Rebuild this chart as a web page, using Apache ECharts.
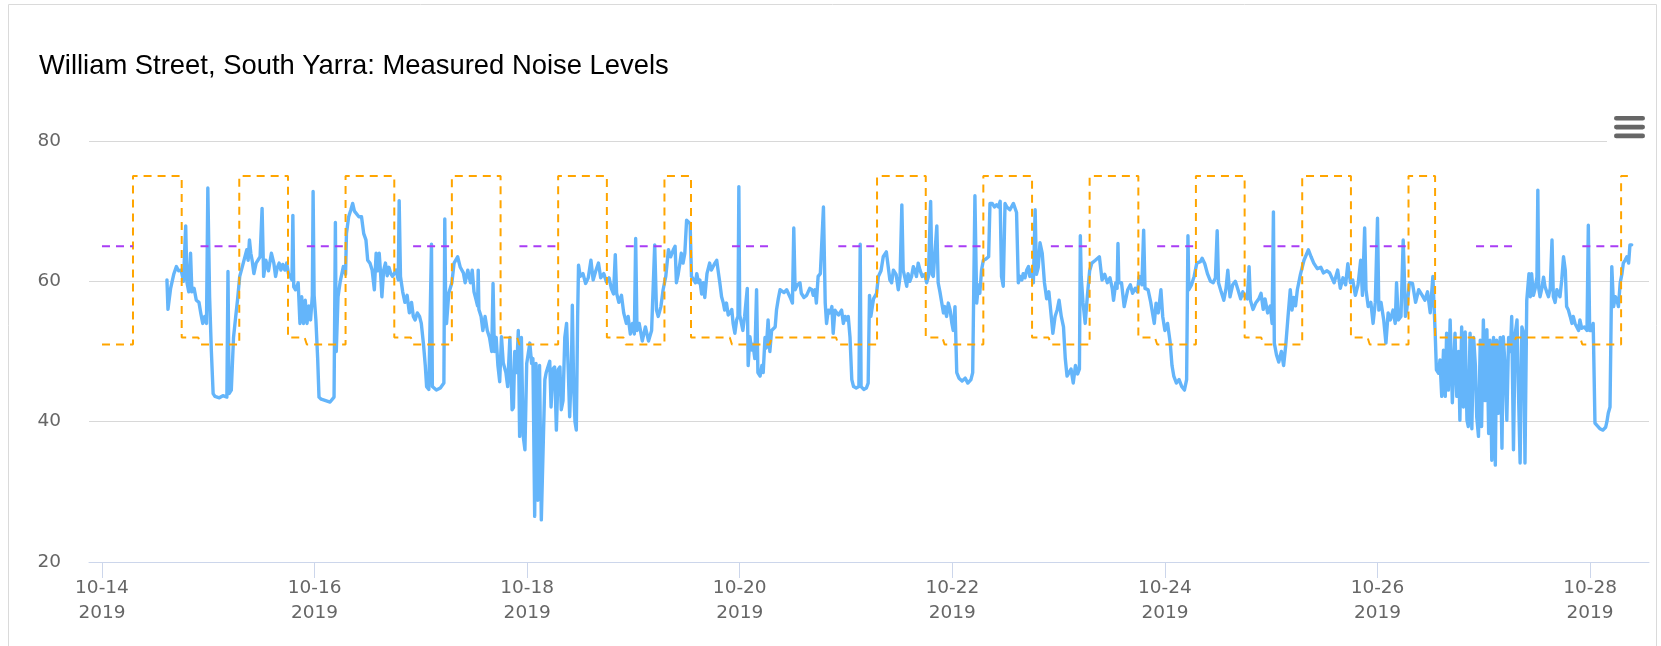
<!DOCTYPE html>
<html><head><meta charset="utf-8">
<script src="https://cdn.jsdelivr.net/npm/echarts@6/dist/echarts.min.js"></script>
<style>html,body{margin:0;padding:0;background:#fff;}#c{width:1661px;height:646px;}</style>
</head><body><div id="c"></div>
<script>
// x values are hours since 2019-10-14 00:00
const titleText = 'William Street, South Yarra: Measured Noise Levels';
const tickHours = [0, 48, 96, 144, 192, 240, 288, 336];
const tickLabels = ['10-14\n2019','10-16\n2019','10-18\n2019','10-20\n2019','10-22\n2019','10-24\n2019','10-26\n2019','10-28\n2019'];
const yTicks = [20, 40, 60, 80];

// measured noise level (dB)
const noise = [
[14.67,60.2],[14.9,56],[15.5,59],[16.2,61],[16.8,62.1],[17.3,61.5],[17.9,61.6],[18.4,60],[18.9,67.9],[19.2,59.8],[19.6,58.5],[20.0,64],[20.3,58.5],[20.8,59],[21.3,57.3],[21.9,57],[22.3,55.5],[22.75,54],[23.2,55],[23.6,54],[23.9,73.3],[24.3,57.8],[24.7,50],[25.1,44],
[25.5,43.6],[26.5,43.4],[27.3,43.7],[28.2,43.5],[28.45,61.4],[28.7,44],[29.2,44.5],[29.7,52],[30.2,55],[30.6,57.3],[31.1,60.7],[31.9,62.6],[32.7,64.5],[33.0,63],[33.3,65.9],[33.6,64],[33.9,63],[34.3,61.1],[34.8,62.6],[35.7,63.5],[36.15,70.4],[36.5,60.7],[37.0,63],[37.6,61.5],[38.25,64],[38.8,62.6],[39.2,60.7],[39.6,62],[40.0,62.6],[40.4,61.6],[40.8,62.4],[41.3,61.6],[41.7,62.6],[42.1,61.1],[42.5,60.7],[42.9,60.2],[43.1,69.4],[43.3,59.2],[43.7,58.8],[44.3,59.8],[44.7,54],[45.1,57.8],[45.5,54],[45.9,57.3],[46.3,54],[46.7,56.5],[47.1,54.5],[47.5,58],[47.67,72.8],[47.9,58],[48.3,54.5],[48.7,49],[49.0,43.5],
[49.5,43.2],[50.5,43.0],[51.5,42.8],[52.4,43.5],[52.7,68.4],[52.9,50],[53.3,57.8],[53.8,60],[54.5,62.1],[55.0,61],[55.2,66.8],[55.7,69.2],[56.2,70.2],[56.6,71.1],[57.0,70],[57.4,70.1],[58.0,69.2],[58.6,69.2],[59.1,66.8],[59.6,65.9],[60.0,63],[60.5,62.6],[61.0,61.6],[61.5,58.8],[61.9,64],[62.3,61.5],[62.6,64],[62.9,61.2],[63.2,57.8],[63.6,61.6],[64.0,62.6],[64.4,60.8],[64.8,62],[65.2,61.1],[65.6,60.7],[66.0,60.5],[66.4,61.6],[66.9,60.2],[67.1,71.5],[67.4,60.7],[67.9,58.5],[68.4,57],[68.9,58],[69.4,55.5],[69.9,57],[70.3,55],[70.7,54.5],[71.2,55.5],[71.7,55],[72.1,54],[72.6,51],[73.0,48],[73.3,45],
[73.8,44.6],[74.2,44.8],[74.4,65.3],[74.6,45],[75.5,44.5],[76.4,44.8],[77.2,45.5],[77.4,68.9],[77.6,56.9],[77.8,54],[78.3,58.3],[79.0,59.8],[79.5,62.6],[80.3,63.5],[80.9,62],[81.6,61.2],[82.0,59.8],[82.6,61.6],[83.2,59.8],[83.6,61.6],[84.0,58.5],[84.5,57.3],[84.8,56.5],[84.95,61.6],[85.1,56],[85.6,55],[86.0,53],[86.5,55],[87.0,53],[87.5,52],[88.0,50],[88.3,59.7],[88.6,50],[89.0,52],[89.4,48],[89.8,45.7],[90.2,52.1],[90.6,48.4],[91.2,47],[91.6,45],[92.1,52],[92.6,41.7],[92.9,42],[93.2,50],[93.6,47],[94.0,53],[94.3,37.9],[94.7,52],[95.1,38],[95.5,36],[95.9,48.3],[96.2,49.5],[96.6,51.2],
[97.0,48.3],[97.3,49],[97.7,26.5],[98.0,48.3],[98.4,28.8],[98.8,48],[99.2,26],[99.6,26.2],[100.0,46],[100.3,47],[101.1,48.6],[101.4,42.1],[101.8,47.5],[102.2,47.8],[102.6,38.8],[103.0,47.4],[103.4,47.8],[103.7,41.7],[104.1,43],[104.5,52],[104.9,54],[105.3,47],[105.6,40.7],[106.0,48],[106.2,56.6],[106.5,45],[106.8,40],[107.1,38.8],[107.4,55],[107.6,62.3],[108.0,60.7],[108.6,61.1],[109.2,59.7],[109.8,60.5],[110.4,63],[110.9,60.2],[111.5,61.5],[112.1,62.6],[112.6,60.5],[113.3,61.1],[113.9,59.9],[114.5,60.5],[115.0,59.0],[115.5,58.2],[115.9,63.8],[116.2,58.3],[116.7,57],[117.3,58],[117.8,55.5],[118.4,54],[118.8,55],[119.3,52.5],[119.8,54],
[120.2,52.5],[120.5,66.1],[120.8,53],[121.3,54],[122.0,51.5],[122.7,53.5],[123.4,51.5],[124.1,53],[124.8,65.2],[125.2,55.9],[125.6,55],[126.2,56.4],[126.7,58.8],[127.3,60.7],[127.9,64.5],[128.4,63.5],[129.0,64.5],[129.4,65],[129.7,59.8],[130.1,61],[130.5,62.6],[130.8,64],[131.2,62.6],[131.6,64],[132.0,68.7],[132.4,68.7],[132.8,68.2],[133.1,60.7],[133.6,60.2],[134.0,59.8],[134.3,61.1],[134.7,59.8],[135.0,60.2],[135.4,58.2],[135.8,59.8],[136.1,57.7],[136.6,61.1],[137.2,62.6],[137.6,61.6],[138.0,61.6],[138.4,62.6],[138.8,63],[139.1,61.6],[139.5,59.8],[139.9,57.8],[140.3,56.9],[140.6,55.9],[141.0,56.9],[141.4,55.2],[141.8,55.5],[142.2,56],[142.5,54],[142.9,52.6],[143.3,54.5],[143.6,55],[143.8,73.5],[144.0,55.2],
[144.4,55],[144.7,53],[145.1,55],[145.4,55],[145.7,59],[145.9,48],[146.3,52.1],[146.7,50.2],[147.0,51],[147.4,49],[147.8,58.8],[148.1,47],[148.6,46.5],[149.0,48],[149.3,47],[149.7,52],[150.0,50.5],[150.4,54.5],[150.8,50],[151.2,53],[151.6,53],[152.0,53.5],[152.3,55.9],[152.7,57.5],[153.1,58.8],[153.5,58.8],[154.0,58.4],[154.6,58.8],[155.0,59],[155.4,57.7],[155.9,56.9],[156.2,67.6],[156.5,58.8],[157.0,59.5],[157.6,59.8],[157.9,58.3],[158.5,57.7],[159.1,58],[159.8,59],[160.3,58.8],[160.6,58],[161.0,58.8],[161.3,56.9],[161.7,60.7],[162.2,61.1],[162.5,61],[162.9,70.6],[163.3,56.9],[163.6,54],[164.0,55.9],[164.4,55.5],[164.8,56.4],[165.1,52.6],[165.5,55.9],[165.9,55.5],[166.3,55.2],[166.6,55],[167.0,55.9],[167.4,54],[167.8,55],[168.1,54.5],[168.5,55],[168.9,52],[169.3,46],
[169.7,45],[170.3,44.8],[170.9,45],[171.2,65.3],[171.4,45],[172.0,44.6],[172.6,44.8],[173.0,45.5],[173.1,50],[173.3,58],[173.6,55],[174.2,57.5],[174.9,58.3],[175.3,60.7],[175.9,61.5],[176.4,63.5],[177.1,64.2],[177.5,64],[177.9,60.2],[178.3,59.8],[178.7,61.6],[179.3,61],[179.8,58.8],[180.2,60.7],[180.6,70.9],[180.9,61.6],[181.3,60.5],[181.7,59.3],[182.0,61.1],[182.4,60],[182.8,60.7],[183.2,62.1],[183.5,61.6],[183.9,60.7],[184.3,62.6],[184.7,61.6],[185.2,60.7],[185.8,61],[186.2,59.8],[186.6,60.7],[187.1,71.4],[187.4,61],[187.7,60.7],[188.1,60.5],[188.5,67.9],[188.8,59.8],[189.2,58.5],[189.6,58.3],[190.0,55.5],[190.3,56.4],[190.7,55],[191.1,56.9],[191.5,55.9],[191.9,54],[192.2,53],[192.6,56.4],[193.0,47],
[193.5,46.2],[194.2,45.8],[194.9,46.2],[195.5,45.5],[196.2,46],[196.6,47],[197.1,72.2],[197.5,56.9],[197.9,59.5],[198.2,58.3],[198.6,61.6],[199.0,63],[199.6,63.2],[200.2,63.5],[200.5,71.1],[201.0,71.1],[201.5,70.6],[202.0,70.9],[202.4,70.6],[202.8,71.4],[203.1,60.7],[203.5,59.3],[203.9,71.1],[204.3,70.6],[204.7,70.4],[205.0,70.2],[205.4,70.4],[205.8,71.1],[206.1,71.1],[206.5,69.8],[206.9,59.8],[207.3,60.7],[207.7,60.2],[208.0,61.1],[208.4,60.5],[208.8,61.6],[209.2,62.1],[209.5,60.7],[209.9,61.6],[210.3,59.8],[210.7,70.2],[211.0,61],[211.4,62],[211.8,65.5],[212.3,64],[212.8,59.8],[213.3,57.5],[213.8,58.5],[214.2,55.9],[214.7,52.6],[215.2,55],[215.7,56],[216.1,57.3],[216.6,55],[217.1,53.5],[217.5,49],[217.9,46.5],
[218.3,46.5],[218.8,47.5],[219.3,45.5],[219.8,48],[220.3,46.8],[220.7,47.5],[220.9,66.5],[221.1,60.7],[221.5,57],[222.0,54],[222.5,58],[223.0,61.5],[223.5,62.6],[224.3,63],[225.2,63.5],[225.8,60.2],[226.4,61],[227.0,59.8],[227.6,60.5],[228.1,59],[228.4,57.3],[228.9,59.8],[229.2,59],[229.4,65.4],[229.6,59.8],[230.2,59.8],[230.8,56.4],[231.1,57.3],[231.6,58.8],[232.2,59.5],[232.7,58.3],[233.3,59],[233.8,58.5],[234.2,60.7],[234.8,59.5],[235.2,67.3],[235.5,59],[236.2,58.8],[236.8,57],[237.6,54],[238.0,56.9],[238.5,55.5],[239.1,58.8],[239.5,55],[240.0,53],[240.6,54],[241.2,51.2],[241.6,48],
[242.0,46.5],[242.6,45.5],[243.2,46],[243.8,45],[244.4,44.5],[244.9,46],[245.2,66.5],[245.4,58.8],[246.0,59.5],[246.6,60.7],[247.2,62.6],[248.0,62.8],[248.4,63.3],[249.0,62.5],[249.6,61.1],[250.3,60],[250.9,59.8],[251.4,60.5],[251.8,67.2],[252.1,59.8],[252.7,58.5],[253.3,57.3],[253.8,59],[254.2,61.6],[254.7,57.8],[255.3,59.5],[255.9,60],[256.5,58.8],[257.1,57.5],[257.6,58.5],[258.1,57.8],[258.6,57.5],[259.0,62.1],[259.3,57.3],[259.9,56],[260.5,56.9],[261.2,57.5],[261.7,58.3],[262.2,56],[262.6,57.5],[263.2,55.5],[263.8,56.5],[264.2,54],[264.5,69.9],[264.7,51.2],
[265.2,49.5],[265.7,48.5],[266.3,50],[266.8,48],[267.3,51],[267.8,55],[268.3,58.8],[268.7,55.9],[269.1,57.7],[269.5,56.5],[269.9,58.8],[270.6,61],[271.4,63],[272.4,64.5],[273.0,63.5],[273.6,62.6],[274.4,61.8],[275.2,62],[275.8,61.2],[276.6,61.5],[277.2,61.2],[278.2,59.8],[279.0,61.6],[279.6,59],[280.2,60.5],[280.8,59.5],[281.3,62.5],[281.9,59.8],[282.4,60.2],[283.0,58],[283.6,59.5],[284.2,63],[284.6,58],[285.1,67.6],[285.4,58.8],[285.9,56.4],[286.5,57],[287.0,54],[287.5,57],[288.0,69],[288.3,55.9],
[288.8,57],[289.4,54.5],[289.9,51.2],[290.4,55.5],[290.9,54.5],[291.5,55.9],[292.0,54],[292.3,59.8],[292.7,54.5],[293.3,55],[293.8,65.9],[294.0,62.1],[294.3,55],[294.6,55.9],[295.2,59.8],[295.9,59.7],[296.6,57],[297.3,58.8],[298.1,58],[298.7,57.3],[299.3,58.5],[299.9,55.5],[300.5,60.7],[301.0,53],[301.3,47.4],[301.8,46.9],[302.1,48.8],[302.5,43.6],[302.9,50.2],[303.3,43.6],[303.6,52.6],[304.0,44.5],[304.4,54.5],[304.9,42.7],[305.5,52.6],[305.9,43.6],[306.3,50],[306.6,40.2],[307.0,53.5],[307.4,42.1],[307.8,52.8],[308.2,40.2],[308.5,39.3],[308.9,52.6],[309.3,39],[309.7,52],[310.1,48],[310.4,40.7],[310.8,37.9],[311.2,51.6],[311.5,39.3],[311.9,54.5],
[312.3,43],[312.7,53.1],[313.1,38.3],[313.4,51.6],[313.8,34.5],[314.2,52],[314.6,33.8],[314.9,51.6],[315.3,41.2],[315.7,52],[316.1,36.2],[316.4,52.1],[316.8,48],[317.2,40.2],[317.6,52],[318.0,50],[318.3,55],[318.7,36],[319.1,52.6],[319.5,54.5],[319.8,45],[320.2,34.1],[320.6,53.5],[321.0,52.6],[321.3,34.1],[321.7,57.3],[322.2,61.1],[322.5,57.8],[322.8,61.1],[323.2,58],[323.6,59],[324.0,60.6],[324.2,73],[324.4,59],[324.7,57.8],[325.1,59],[325.5,60.6],[325.8,59.3],[326.2,58.5],[326.6,57.8],[327.0,59],[327.4,65.9],[327.7,57.8],[328.1,57],[328.5,58.8],[328.9,58.8],[329.2,57.8],[329.6,60.2],[330.0,63.5],[330.4,61.6],[330.7,56.4],[331.1,55.9],[331.5,55],[331.9,54],[332.2,55],[332.6,54],[333.0,53.5],[333.4,53],[333.7,54.5],[334.1,53.3],[334.7,53.5],[335.3,53],[335.6,68],[335.9,53],[336.4,53],[336.7,54],[337.1,39.8],[337.5,39.5],[338.2,39],[338.9,38.8],[339.5,39.2],[339.8,40],[340.1,41.2],[340.5,42.1],[340.9,62.1],[341.3,56.4],[341.7,57.8],[342.0,57.5],[342.4,56.4],[342.8,59.8],[343.2,61.1],[343.5,62.6],[343.9,63],[344.3,63.5],[344.7,62.6],[345.0,65.2],[345.4,65.2]
];

// noise limit schedule (dB) breakpoints
const limit = [
[0,51],[7,51],[7,75],[18,75],[18,52],[21.75,52],[22.25,51],
[31,51],[31,75],[42,75],[42,52],[45.75,52],[46.25,51],
[55,51],[55,75],[66,75],[66,52],[69.75,52],[70.25,51],
[79,51],[79,75],[90,75],[90,52],[93.75,52],[94.25,51],
[103,51],[103,75],[114,75],[114,52],[117.75,52],[118.25,51],
[127,51],[127,75],[133,75],[133,52],[141.75,52],[142.25,51],
[150.75,51],[151.25,52],[165.75,52],[166.25,51],
[175,51],[175,75],[186,75],[186,52],[189.75,52],[190.25,51],
[199,51],[199,75],[210,75],[210,52],[213.75,52],[214.25,51],
[223,51],[223,75],[234,75],[234,52],[237.75,52],[238.25,51],
[247,51],[247,75],[258,75],[258,52],[261.75,52],[262.25,51],
[271,51],[271,75],[282,75],[282,52],[285.75,52],[286.25,51],
[295,51],[295,75],[301,75],[301,52],[309.75,52],[310.25,51],
[318.75,51],[319.25,52],[333.75,52],[334.25,51],
[343,51],[343,75],[345.8,75]
];

// night maximum limit (dB) and the spans it applies to
const nightLimit = 65;
const nightSpans = [[0,7],[22.25,31],[46.25,55],[70.25,79],[94.25,103],[118.25,127],[142.25,151],[166.25,175],[190.25,199],[214.25,223],[238.25,247],[262.25,271],[286.25,295],[310.25,319],[334.25,343]];

const nightData = [];
nightSpans.forEach(function(s){ nightData.push([s[0], nightLimit], [s[1], nightLimit], [s[1], '-']); });

const chart = echarts.init(document.getElementById('c'), null, {renderer: 'canvas', width: 1661, height: 646});
const labelFont = '"DejaVu Sans", Verdana, sans-serif';
chart.setOption({
  animation: false,
  backgroundColor: '#ffffff',
  title: {
    text: titleText, left: 39, top: 53, padding: 0,
    textStyle: {fontFamily: '"Liberation Sans", Arial, sans-serif', fontSize: 27.4, fontWeight: 'normal', color: '#000000'}
  },
  grid: {left: 89, right: 12, top: 141, bottom: 84, containLabel: false},
  xAxis: {
    type: 'value', min: -2.93, max: 349.3,
    splitLine: {show: false},
    axisLine: {lineStyle: {color: '#ccd6eb', width: 1}},
    axisTick: {customValues: tickHours, length: 16, lineStyle: {color: '#ccd6eb'}},
    axisLabel: {
      customValues: tickHours,
      formatter: function (v) { const i = tickHours.indexOf(v); return i >= 0 ? tickLabels[i] : ''; },
      color: '#666666', fontSize: 18.5, lineHeight: 25, margin: 14, fontFamily: labelFont
    }
  },
  yAxis: {
    type: 'value', min: yTicks[0], max: yTicks[yTicks.length - 1], interval: 20,
    axisLine: {show: false}, axisTick: {show: false},
    splitLine: {lineStyle: {color: '#d8d8d8', width: 1}},
    axisLabel: {color: '#666666', fontSize: 18.5, margin: 28, fontFamily: labelFont}
  },
  series: [
    {type: 'line', data: noise, symbol: 'none', lineStyle: {color: '#64b5fa', width: 3.4, join: 'round', cap: 'round'}, itemStyle: {color: '#64b5fa'}, emphasis: {disabled: true}},
    {type: 'line', data: limit, symbol: 'none', lineStyle: {color: '#ffa500', width: 2, type: [8, 6]}, itemStyle: {color: '#ffa500'}, emphasis: {disabled: true}},
    {type: 'line', data: nightData, symbol: 'none', connectNulls: false, lineStyle: {color: '#a93cf5', width: 2, type: [8, 6]}, itemStyle: {color: '#a93cf5'}, emphasis: {disabled: true}}
  ],
  graphic: {elements: [
    {type: 'rect', silent: true, z: 100, shape: {x: 8.5, y: 4.5, width: 1648, height: 700}, style: {fill: 'none', stroke: '#dadada', lineWidth: 1}},
    {type: 'rect', silent: true, z: 100, shape: {x: 1607, y: 104, width: 47, height: 46}, style: {fill: '#ffffff'}},
    {type: 'rect', silent: true, z: 101, shape: {x: 1614, y: 116, width: 31, height: 4.6, r: 2.3}, style: {fill: '#666666'}},
    {type: 'rect', silent: true, z: 101, shape: {x: 1614, y: 124.8, width: 31, height: 4.6, r: 2.3}, style: {fill: '#666666'}},
    {type: 'rect', silent: true, z: 101, shape: {x: 1614, y: 133.6, width: 31, height: 4.6, r: 2.3}, style: {fill: '#666666'}}
  ]}
});
</script>
</body></html>
